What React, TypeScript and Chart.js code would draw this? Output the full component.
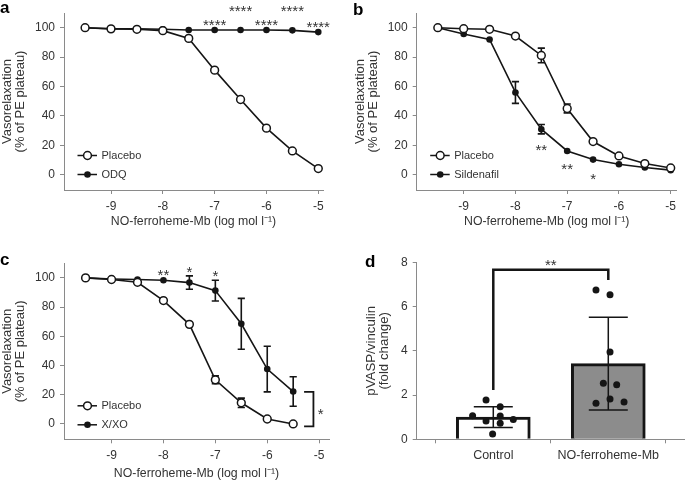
import React, { useEffect, useRef } from 'react';
import { Chart, registerables } from 'chart.js';
Chart.register(...registerables);

const FONT = "'Liberation Sans', Arial, Helvetica, sans-serif";
const TEXT = '#333333';
const AXIS = '#8a8a8a';
const INK = '#151515';

// ---------------- data ----------------
const LOG_DOSE = [-9.5, -9, -8.5, -8, -7.5, -7, -6.5, -6, -5.5, -5];
const LOG_DOSE_C = [-9.5, -9, -8.5, -8, -7.5, -7, -6.5, -6, -5.5];
const X_TICKS = [-9, -8, -7, -6, -5];
const Y_TICKS = [0, 20, 40, 60, 80, 100];
const X_TITLE = 'NO-ferroheme-Mb (log mol l\u207B\u00B9)';
const Y_TITLE = ['Vasorelaxation', '(% of PE plateau)'];

// panel a
const A_PLACEBO = [100, 99.2, 98.9, 98, 92.7, 71.1, 51.1, 31.6, 16.1, 4.1];
const A_ODQ = [100, 99.3, 99.3, 98.9, 98.4, 98.4, 98.4, 98.4, 98.2, 97];
const A_STAR_X = [-7, -6.5, -6, -5.5, -5];
const A_STAR_Y = [104.4, 113.7, 104.4, 113.7, 103.1];
const A_STAR_TEXT = ['****', '****', '****', '****', '****'];

// panel b
const B_PLACEBO = [100, 99.3, 98.9, 94.3, 81.1, 45, 22.5, 12.7, 7.5, 4.5];
const B_PLACEBO_SEM = [0, 0, 0, 0, 5, 3, 0, 0, 0, 0];
const B_SILDENAFIL = [100, 95.7, 92, 55.9, 30.9, 16.1, 10.2, 7, 4.8, 3];
const B_SILDENAFIL_SEM = [0, 0, 0, 7.4, 3.2, 0, 0, 0, 0, 0];
const B_STAR_X = [-7.5, -7, -6.5];
const B_STAR_Y = [19.5, 6.3, -0.3];
const B_STAR_TEXT = ['**', '**', '*'];

// panel c
const C_PLACEBO = [100, 98.9, 97, 84.5, 68.2, 30.2, 14.5, 3.4, 0];
const C_PLACEBO_SEM = [0, 0, 0, 0, 0, 2.7, 3.2, 0, 0];
const C_XXO = [100, 99.3, 98.9, 98.4, 96.8, 91.3, 68.6, 37.6, 22.2];
const C_XXO_SEM = [0, 0, 0, 0, 4.6, 7.1, 17.4, 15.6, 10.1];
const C_STAR_X = [-8, -7.5, -7, -4.97];
const C_STAR_Y = [104.5, 106.5, 103.8, 9.1];
const C_STAR_TEXT = ['**', '*', '*', '*'];
const C_BRACKET_X = [-5.29, -5.11];
const C_BRACKET_Y = [22, -1.6];

// panel d
const D_CATEGORIES = ['Control', 'NO-ferroheme-Mb'];
const D_MEANS = [1.0, 3.42];
const D_SD = [0.47, 2.1];
const D_CONTROL_X = [-0.063, 0.06, -0.18, 0.06, -0.063, 0.06, 0.174, -0.006];
const D_CONTROL_Y = [1.78, 1.47, 1.07, 1.05, 0.83, 0.72, 0.9, 0.24];
const D_NO_X = [0.893, 1.015, 1.015, 0.957, 1.073, 0.893, 1.015, 1.137];
const D_NO_Y = [6.75, 6.53, 3.95, 2.53, 2.46, 1.63, 1.82, 1.69];
const D_Y_TICKS = [0, 2, 4, 6, 8];
const D_BRACKET_X = [0, 1];
const D_BRACKET_Y = [2.23, 7.66, 7.2];
const D_STAR_X = [0.5];
const D_STAR_Y = [8.04];
const D_STAR_TEXT = ['**'];

// ---------------- helpers ----------------
type Series = { label: string; x: number[]; y: number[]; sem?: number[]; filled: boolean };
type Area = { left: number; top: number; right: number; bottom: number };

function drawStars(chart: any, xs: number[], ys: number[], texts: string[]) {
  const ctx = chart.ctx;
  const sx = chart.scales.x;
  const sy = chart.scales.y;
  const size = 15;
  ctx.save();
  ctx.font = `${size}px ${FONT}`;
  ctx.fillStyle = TEXT;
  ctx.textAlign = 'center';
  ctx.textBaseline = 'alphabetic';
  xs.forEach((xv, i) => {
    const px = sx.getPixelForValue(xv);
    const py = sy.getPixelForValue(ys[i]);
    ctx.fillText(texts[i], px, py + size * 0.58);
  });
  ctx.restore();
}

function drawLetter(chart: any, text: string, x: number, y: number) {
  const ctx = chart.ctx;
  ctx.save();
  ctx.font = `bold 17px ${FONT}`;
  ctx.fillStyle = '#000';
  ctx.textAlign = 'left';
  ctx.textBaseline = 'alphabetic';
  ctx.fillText(text, x, y);
  ctx.restore();
}

function drawMarker(ctx: any, x: number, y: number, filled: boolean) {
  ctx.beginPath();
  ctx.arc(x, y, filled ? 3.3 : 3.9, 0, Math.PI * 2);
  if (filled) {
    ctx.fillStyle = INK;
    ctx.fill();
  } else {
    ctx.fillStyle = '#fff';
    ctx.fill();
    ctx.lineWidth = 1.5;
    ctx.strokeStyle = INK;
    ctx.stroke();
  }
}

function axisCommon() {
  return {
    grid: { drawOnChartArea: false, drawTicks: true, tickLength: 4, color: AXIS, lineWidth: 1 },
    border: { color: AXIS, width: 1 },
  };
}

interface CurveSpec {
  w: number;
  h: number;
  area: Area;
  xMin: number;
  xMax: number;
  yMin: number;
  yMax: number;
  yTitlePad: number;
  xTitlePad: number;
  series: Series[];
  stars: { x: number[]; y: number[]; t: string[] };
  letter: { text: string; x: number; y: number };
  bracket?: { x: number[]; y: number[] };
}

function curveConfig(spec: CurveSpec): any {
  const plugin = {
    id: 'panelDecor',
    beforeDatasetsDraw(chart: any) {
      const ctx = chart.ctx;
      const sx = chart.scales.x;
      const sy = chart.scales.y;
      ctx.save();
      ctx.strokeStyle = INK;
      ctx.lineWidth = 1.6;
      spec.series.forEach((s) => {
        if (!s.sem) return;
        s.x.forEach((xv, i) => {
          const e = s.sem![i];
          if (!e) return;
          const px = sx.getPixelForValue(xv);
          const y1 = sy.getPixelForValue(s.y[i] + e);
          const y2 = sy.getPixelForValue(s.y[i] - e);
          const cap = 3.6;
          ctx.beginPath();
          ctx.moveTo(px, y1);
          ctx.lineTo(px, y2);
          ctx.moveTo(px - cap, y1);
          ctx.lineTo(px + cap, y1);
          ctx.moveTo(px - cap, y2);
          ctx.lineTo(px + cap, y2);
          ctx.stroke();
        });
      });
      ctx.restore();
    },
    afterDraw(chart: any) {
      const ctx = chart.ctx;
      const a = chart.chartArea;
      drawStars(chart, spec.stars.x, spec.stars.y, spec.stars.t);
      // legend
      const rows = [142.5, 161.5];
      spec.series.forEach((s, i) => {
        const y = a.top + rows[i];
        ctx.save();
        ctx.strokeStyle = INK;
        ctx.lineWidth = 1.5;
        ctx.beginPath();
        ctx.moveTo(a.left + 13.5, y);
        ctx.lineTo(a.left + 33, y);
        ctx.stroke();
        drawMarker(ctx, a.left + 23.5, y, s.filled);
        ctx.font = `11px ${FONT}`;
        ctx.fillStyle = TEXT;
        ctx.textAlign = 'left';
        ctx.textBaseline = 'middle';
        ctx.fillText(s.label, a.left + 37.5, y + 0.5);
        ctx.restore();
      });
      if (spec.bracket) {
        const sx = chart.scales.x;
        const sy = chart.scales.y;
        const x0 = sx.getPixelForValue(spec.bracket.x[0]);
        const x1 = sx.getPixelForValue(spec.bracket.x[1]);
        const y0 = sy.getPixelForValue(spec.bracket.y[0]);
        const y1 = sy.getPixelForValue(spec.bracket.y[1]);
        ctx.save();
        ctx.strokeStyle = INK;
        ctx.lineWidth = 1.8;
        ctx.beginPath();
        ctx.moveTo(x0, y0);
        ctx.lineTo(x1, y0);
        ctx.lineTo(x1, y1);
        ctx.lineTo(x0, y1);
        ctx.stroke();
        ctx.restore();
      }
      drawLetter(chart, spec.letter.text, spec.letter.x, spec.letter.y);
    },
  };

  return {
    type: 'line',
    data: {
      datasets: spec.series.map((s) => ({
        label: s.label,
        data: s.x.map((x, i) => ({ x, y: s.y[i] })),
        borderColor: INK,
        borderWidth: 1.6,
        tension: 0,
        fill: false,
        clip: false,
        pointRadius: s.filled ? 3.3 : 3.9,
        pointHoverRadius: s.filled ? 3.3 : 3.9,
        pointBorderWidth: s.filled ? 0 : 1.5,
        pointBackgroundColor: s.filled ? INK : '#ffffff',
        pointBorderColor: INK,
      })),
    },
    options: {
      responsive: false,
      animation: false,
      events: [],
      layout: {
        autoPadding: false,
        padding: { left: 0, top: spec.area.top, right: spec.w - spec.area.right, bottom: 0 },
      },
      plugins: { legend: { display: false }, tooltip: { enabled: false } },
      scales: {
        x: {
          type: 'linear',
          min: spec.xMin,
          max: spec.xMax,
          ...axisCommon(),
          afterBuildTicks: (s: any) => {
            s.ticks = X_TICKS.map((v) => ({ value: v }));
          },
          afterFit: (s: any) => {
            s.height = spec.h - spec.area.bottom;
          },
          ticks: {
            font: { family: FONT, size: 12 },
            color: TEXT,
            padding: 5,
            maxRotation: 0,
            callback: (v: any) => String(v),
          },
          title: {
            display: true,
            text: X_TITLE,
            font: { family: FONT, size: 12.3 },
            color: TEXT,
            padding: { top: 0, bottom: spec.xTitlePad },
          },
        },
        y: {
          type: 'linear',
          min: spec.yMin,
          max: spec.yMax,
          ...axisCommon(),
          afterBuildTicks: (s: any) => {
            s.ticks = Y_TICKS.map((v) => ({ value: v }));
          },
          afterFit: (s: any) => {
            s.width = spec.area.left;
          },
          ticks: { font: { family: FONT, size: 12 }, color: TEXT, padding: 5 },
          title: {
            display: true,
            text: Y_TITLE,
            font: { family: FONT, size: 13, lineHeight: 1.0 },
            color: TEXT,
            padding: { top: spec.yTitlePad, bottom: 0 },
          },
        },
      },
    },
    plugins: [plugin],
  };
}

function barConfig(): any {
  const w = 345;
  const h = 241;
  const area: Area = { left: 76.7, top: 22.3, right: 345, bottom: 199.3 };
  const plugin = {
    id: 'barDecor',
    afterDatasetDraw(chart: any, args: any) {
      if (args.index !== 1) return;
      const ctx = chart.ctx;
      const sx = chart.scales.x;
      const sy = chart.scales.y;
      ctx.save();
      ctx.strokeStyle = INK;
      ctx.lineWidth = 1.5;
      D_MEANS.forEach((m, i) => {
        const px = sx.getPixelForValue(i);
        const y1 = sy.getPixelForValue(m + D_SD[i]);
        const y2 = sy.getPixelForValue(m - D_SD[i]);
        const cap = 19.5;
        ctx.beginPath();
        ctx.moveTo(px, y1);
        ctx.lineTo(px, y2);
        ctx.moveTo(px - cap, y1);
        ctx.lineTo(px + cap, y1);
        ctx.moveTo(px - cap, y2);
        ctx.lineTo(px + cap, y2);
        ctx.stroke();
      });
      ctx.restore();
    },
    afterDraw(chart: any) {
      const ctx = chart.ctx;
      const sx = chart.scales.x;
      const sy = chart.scales.y;
      const x0 = sx.getPixelForValue(D_BRACKET_X[0]);
      const x1 = sx.getPixelForValue(D_BRACKET_X[1]);
      ctx.save();
      ctx.strokeStyle = INK;
      ctx.lineWidth = 2.5;
      ctx.lineJoin = 'miter';
      ctx.beginPath();
      ctx.moveTo(x0, sy.getPixelForValue(D_BRACKET_Y[0]));
      ctx.lineTo(x0, sy.getPixelForValue(D_BRACKET_Y[1]));
      ctx.lineTo(x1, sy.getPixelForValue(D_BRACKET_Y[1]));
      ctx.lineTo(x1, sy.getPixelForValue(D_BRACKET_Y[2]));
      ctx.stroke();
      ctx.restore();
      drawStars(chart, D_STAR_X, D_STAR_Y, D_STAR_TEXT);
      drawLetter(chart, 'd', 25, 27);
    },
  };
  const dots = [
    ...D_CONTROL_X.map((x, i) => ({ x, y: D_CONTROL_Y[i] })),
    ...D_NO_X.map((x, i) => ({ x, y: D_NO_Y[i] })),
  ];
  return {
    type: 'bar',
    data: {
      datasets: [
        {
          type: 'scatter',
          data: dots,
          pointRadius: 3.5,
          pointHoverRadius: 3.5,
          pointBackgroundColor: INK,
          pointBorderWidth: 0,
          clip: false,
        },
        {
          type: 'bar',
          data: D_MEANS.map((m, i) => ({ x: i, y: m })),
          backgroundColor: ['#ffffff', '#8c8c8c'],
          borderColor: INK,
          borderWidth: 3,
          barThickness: 74,
        },
      ],
    },
    options: {
      responsive: false,
      animation: false,
      events: [],
      layout: {
        autoPadding: false,
        padding: { left: 0, top: area.top, right: w - area.right, bottom: 0 },
      },
      plugins: { legend: { display: false }, tooltip: { enabled: false } },
      scales: {
        x: {
          type: 'linear',
          min: -0.666,
          max: 1.667,
          offset: false,
          ...axisCommon(),
          afterBuildTicks: (s: any) => {
            s.ticks = D_CATEGORIES.map((_, i) => ({ value: i }));
          },
          afterFit: (s: any) => {
            s.height = h - area.bottom;
          },
          ticks: {
            font: { family: FONT, size: 12.5 },
            color: TEXT,
            padding: 5,
            maxRotation: 0,
            autoSkip: false,
            callback: (v: any) => D_CATEGORIES[Math.round(v)] ?? '',
          },
        },
        y: {
          type: 'linear',
          min: 0,
          max: 8,
          ...axisCommon(),
          afterBuildTicks: (s: any) => {
            s.ticks = D_Y_TICKS.map((v) => ({ value: v }));
          },
          afterFit: (s: any) => {
            s.width = area.left;
          },
          ticks: { font: { family: FONT, size: 12 }, color: TEXT, padding: 5 },
          title: {
            display: true,
            text: ['pVASP/vinculin', '(fold change)'],
            font: { family: FONT, size: 13.3, lineHeight: 0.93 },
            color: TEXT,
            padding: { top: 25.5, bottom: 0 },
          },
        },
      },
    },
    plugins: [plugin],
  };
}

const SPEC_A: CurveSpec = {
  w: 340,
  h: 235,
  area: { left: 64, top: 13, right: 323, bottom: 190 },
  xMin: -9.907,
  xMax: -4.909,
  yMin: -10.5,
  yMax: 110,
  yTitlePad: 1,
  xTitlePad: 6,
  series: [
    { label: 'Placebo', x: LOG_DOSE, y: A_PLACEBO, filled: false },
    { label: 'ODQ', x: LOG_DOSE, y: A_ODQ, filled: true },
  ],
  stars: { x: A_STAR_X, y: A_STAR_Y, t: A_STAR_TEXT },
  letter: { text: 'a', x: 0, y: 13 },
};

const SPEC_B: CurveSpec = {
  w: 345,
  h: 235,
  area: { left: 76.7, top: 13, right: 336.7, bottom: 190 },
  xMin: -9.908,
  xMax: -4.884,
  yMin: -10.5,
  yMax: 110,
  yTitlePad: 13.5,
  xTitlePad: 6,
  series: [
    { label: 'Placebo', x: LOG_DOSE, y: B_PLACEBO, sem: B_PLACEBO_SEM, filled: false },
    { label: 'Sildenafil', x: LOG_DOSE, y: B_SILDENAFIL, sem: B_SILDENAFIL_SEM, filled: true },
  ],
  stars: { x: B_STAR_X, y: B_STAR_Y, t: B_STAR_TEXT },
  letter: { text: 'b', x: 13, y: 15 },
};

const SPEC_C: CurveSpec = {
  w: 340,
  h: 241,
  area: { left: 64, top: 23.3, right: 329, bottom: 199.3 },
  xMin: -9.916,
  xMax: -4.81,
  yMin: -10.5,
  yMax: 110,
  yTitlePad: 1,
  xTitlePad: 0.5,
  series: [
    { label: 'Placebo', x: LOG_DOSE_C, y: C_PLACEBO, sem: C_PLACEBO_SEM, filled: false },
    { label: 'X/XO', x: LOG_DOSE_C, y: C_XXO, sem: C_XXO_SEM, filled: true },
  ],
  stars: { x: C_STAR_X, y: C_STAR_Y, t: C_STAR_TEXT },
  letter: { text: 'c', x: 0, y: 25 },
  bracket: { x: C_BRACKET_X, y: C_BRACKET_Y },
};

function Panel(props: { left: number; top: number; width: number; height: number; make: () => any }) {
  const ref = useRef<HTMLCanvasElement>(null);
  useEffect(() => {
    const chart = new Chart(ref.current as HTMLCanvasElement, props.make());
    return () => chart.destroy();
  }, []);
  return (
    <canvas
      ref={ref}
      width={props.width}
      height={props.height}
      style={{ position: 'absolute', left: props.left, top: props.top, width: props.width, height: props.height, display: 'block' }}
    />
  );
}

export default function App() {
  return (
    <div
      style={{
        position: 'absolute',
        left: 0,
        top: 0,
        width: 685,
        height: 481,
        background: '#ffffff',
        overflow: 'hidden',
      }}
    >
      <Panel left={0} top={0} width={340} height={235} make={() => curveConfig(SPEC_A)} />
      <Panel left={340} top={0} width={345} height={235} make={() => curveConfig(SPEC_B)} />
      <Panel left={0} top={240} width={340} height={241} make={() => curveConfig(SPEC_C)} />
      <Panel left={340} top={240} width={345} height={241} make={barConfig} />
    </div>
  );
}
